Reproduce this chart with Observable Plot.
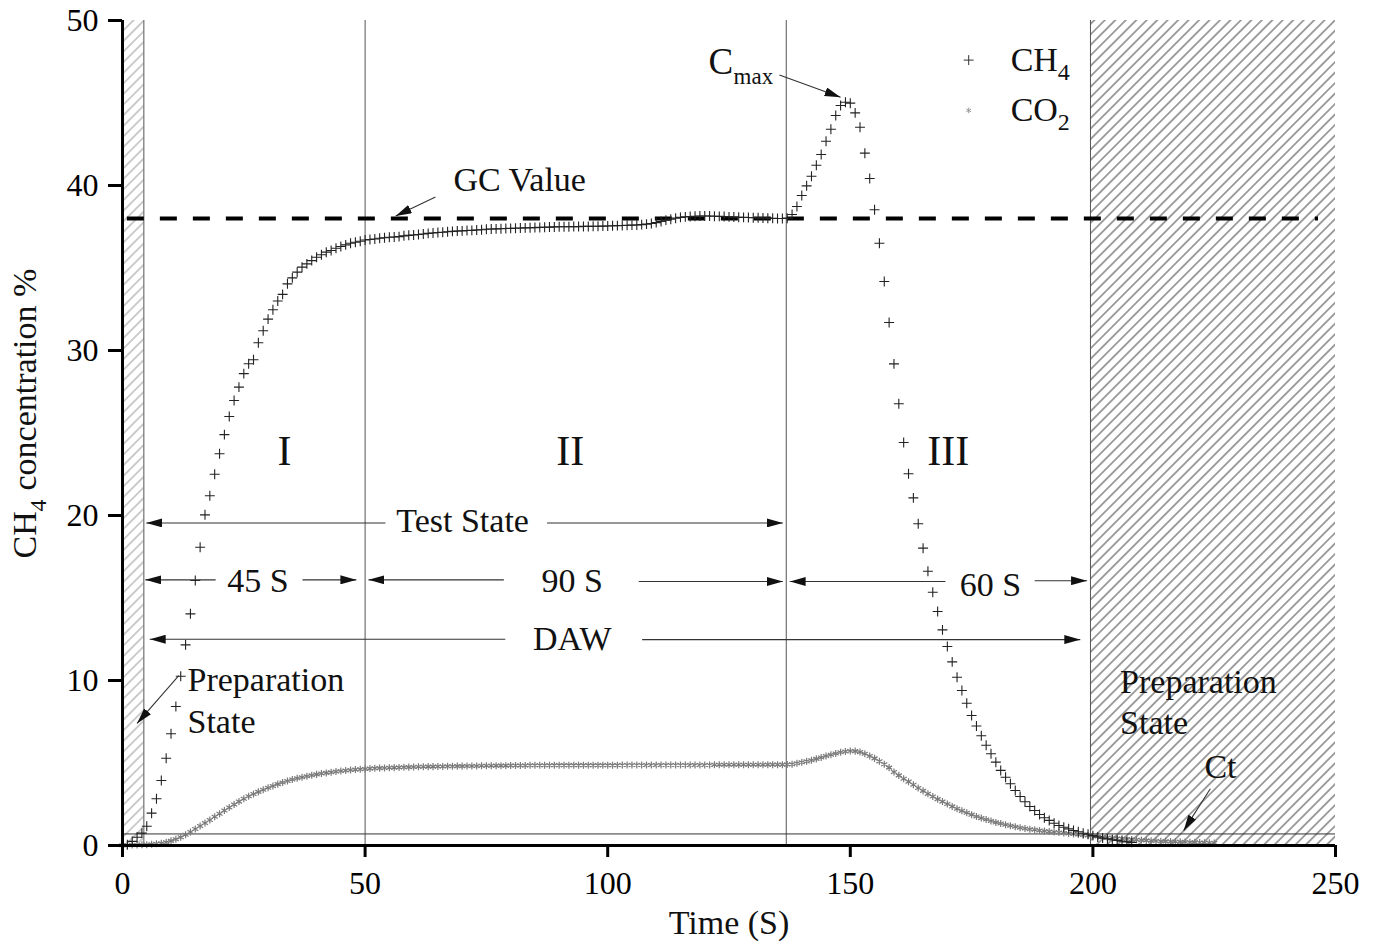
<!DOCTYPE html>
<html><head><meta charset="utf-8">
<script src="https://cdn.jsdelivr.net/npm/d3@7"></script>
<script src="https://cdn.jsdelivr.net/npm/@observablehq/plot@0.6"></script>
<style>
html,body{margin:0;padding:0;background:#fff;}
#chart svg{display:block;}
#chart svg text{font-family:'Liberation Serif','Times New Roman',serif;}
</style></head><body>
<svg width="0" height="0" style="position:absolute">
<defs>
<pattern id="hatchL" patternUnits="userSpaceOnUse" width="7.5" height="7.5" patternTransform="rotate(45)"><line x1="3.75" y1="-1" x2="3.75" y2="8.5" stroke="#999" stroke-width="1"/></pattern>
<pattern id="hatchR" patternUnits="userSpaceOnUse" width="7.4" height="7.4" patternTransform="rotate(45)"><line x1="3.7" y1="-1" x2="3.7" y2="8.4" stroke="#444" stroke-width="1"/></pattern>
</defs></svg>
<div id="chart"></div>
<script>
// CH4 concentration (%), sampled once per second from t = 0 s
const ch4 = [
  0.00, 0.05, 0.25, 0.50, 0.75, 1.17, 1.96, 2.83, 3.94, 5.29,
  6.77, 8.42, 10.26, 12.16, 14.04, 16.06, 18.08, 20.04, 21.20, 22.50,
  23.74, 24.90, 26.00, 26.97, 27.78, 28.60, 29.20, 29.44, 30.47, 31.20,
  31.90, 32.47, 33.00, 33.40, 34.04, 34.40, 34.75, 35.05, 35.25, 35.45,
  35.65, 35.80, 35.96, 36.06, 36.20, 36.30, 36.40, 36.50, 36.56, 36.62,
  36.70, 36.73, 36.76, 36.80, 36.83, 36.86, 36.88, 36.90, 36.95, 36.98,
  37.00, 37.03, 37.06, 37.10, 37.12, 37.15, 37.17, 37.20, 37.22, 37.24,
  37.25, 37.27, 37.28, 37.30, 37.32, 37.35, 37.36, 37.37, 37.38, 37.39,
  37.40, 37.41, 37.42, 37.43, 37.44, 37.45, 37.46, 37.47, 37.48, 37.49,
  37.50, 37.50, 37.50, 37.51, 37.51, 37.52, 37.52, 37.53, 37.53, 37.54,
  37.55, 37.56, 37.57, 37.58, 37.59, 37.60, 37.61, 37.63, 37.66, 37.70,
  37.75, 37.82, 37.90, 37.96, 38.02, 38.07, 38.10, 38.12, 38.14, 38.15,
  38.15, 38.15, 38.14, 38.13, 38.12, 38.10, 38.09, 38.08, 38.07, 38.06,
  38.05, 38.04, 38.03, 38.02, 38.01, 38.00, 38.00, 38.02, 38.24, 38.73,
  39.39, 39.98, 40.56, 41.23, 41.88, 42.68, 43.41, 44.24, 44.85, 45.05,
  44.99, 44.40, 43.53, 41.96, 40.42, 38.53, 36.50, 34.18, 31.70, 29.19,
  26.77, 24.42, 22.53, 21.07, 19.50, 18.02, 16.62, 15.35, 14.18, 13.07,
  12.06, 11.13, 10.20, 9.39, 8.62, 7.88, 7.24, 6.65, 6.08, 5.56,
  5.05, 4.55, 4.14, 3.74, 3.33, 2.97, 2.65, 2.36, 2.12, 1.88,
  1.68, 1.52, 1.35, 1.21, 1.11, 1.01, 0.91, 0.83, 0.74, 0.68,
  0.60, 0.52, 0.45, 0.40, 0.35, 0.30, 0.26, 0.22, 0.19
];
// CO2 concentration (%), sampled once per second from t = 0 s
const co2 = [
  0.02, 0.02, 0.03, 0.03, 0.04, 0.05, 0.07, 0.10, 0.14, 0.20,
  0.28, 0.38, 0.50, 0.65, 0.82, 1.00, 1.18, 1.36, 1.55, 1.74,
  1.93, 2.12, 2.30, 2.48, 2.66, 2.83, 2.98, 3.12, 3.25, 3.38,
  3.50, 3.61, 3.72, 3.82, 3.91, 4.00, 4.07, 4.14, 4.20, 4.26,
  4.31, 4.36, 4.40, 4.44, 4.48, 4.51, 4.54, 4.57, 4.60, 4.62,
  4.64, 4.66, 4.68, 4.69, 4.70, 4.71, 4.72, 4.73, 4.74, 4.75,
  4.76, 4.77, 4.77, 4.78, 4.78, 4.79, 4.79, 4.80, 4.80, 4.81,
  4.81, 4.82, 4.82, 4.82, 4.83, 4.83, 4.83, 4.84, 4.84, 4.84,
  4.85, 4.85, 4.85, 4.85, 4.86, 4.86, 4.86, 4.86, 4.86, 4.87,
  4.87, 4.87, 4.87, 4.87, 4.87, 4.87, 4.87, 4.87, 4.87, 4.87,
  4.87, 4.87, 4.87, 4.88, 4.88, 4.88, 4.88, 4.88, 4.88, 4.88,
  4.88, 4.88, 4.88, 4.88, 4.88, 4.88, 4.88, 4.88, 4.88, 4.88,
  4.88, 4.88, 4.89, 4.89, 4.89, 4.89, 4.89, 4.89, 4.89, 4.89,
  4.89, 4.89, 4.89, 4.90, 4.90, 4.90, 4.90, 4.91, 4.93, 4.98,
  5.04, 5.10, 5.17, 5.25, 5.33, 5.42, 5.50, 5.58, 5.65, 5.70,
  5.73, 5.72, 5.66, 5.56, 5.43, 5.28, 5.10, 4.92, 4.72, 4.45,
  4.25, 4.05, 3.87, 3.68, 3.49, 3.31, 3.13, 2.97, 2.81, 2.66,
  2.51, 2.37, 2.23, 2.10, 1.98, 1.87, 1.76, 1.66, 1.57, 1.48,
  1.40, 1.33, 1.26, 1.20, 1.14, 1.08, 1.03, 0.99, 0.95, 0.91,
  0.88, 0.85, 0.82, 0.79, 0.76, 0.73, 0.70, 0.67, 0.64, 0.61,
  0.58, 0.55, 0.52, 0.49, 0.46, 0.43, 0.41, 0.39, 0.37, 0.35,
  0.33, 0.31, 0.29, 0.27, 0.26, 0.25, 0.24, 0.23, 0.22, 0.21,
  0.20, 0.19, 0.18, 0.17, 0.16, 0.15
];
const xTicks = [0, 50, 100, 150, 200, 250];
const yTicks = [0, 10, 20, 30, 40, 50];
const gcValue = 38;
const ctLevel = 0.7;
const stageBounds = [4.4, 50, 136.8, 199.5];
const prepLeft = {t1: 0, t2: 4.4};
const prepRight = {t1: 199.5, t2: 250};

// annotations (in data units: time s, concentration %)
const regionLabels = [
  {label: "I", t: 33.4, c: 23.9},
  {label: "II", t: 92.3, c: 23.9},
  {label: "III", t: 170.2, c: 23.9}
];
const spanLabels = [
  {label: "Test State", t: 70.1, c: 19.65},
  {label: "45 S", t: 27.9, c: 16.0},
  {label: "90 S", t: 92.7, c: 16.0},
  {label: "60 S", t: 178.9, c: 15.8},
  {label: "DAW", t: 92.7, c: 12.5}
];
const leftLabels = [
  {label: "Preparation", t: 13.4, c: 10.0},
  {label: "State", t: 13.4, c: 7.47},
  {label: "Preparation", t: 205.6, c: 9.9},
  {label: "State", t: 205.6, c: 7.4},
  {label: "GC Value", t: 68.2, c: 40.3}
];
const ctLabel = [{label: "Ct", t: 226.3, c: 4.75}];
const arrows = [
  {t1: 54.2, c1: 19.55, t2: 4.9, c2: 19.55},
  {t1: 87.5, c1: 19.55, t2: 136.1, c2: 19.55},
  {t1: 19.2, c1: 16.1, t2: 4.7, c2: 16.1},
  {t1: 37.1, c1: 16.1, t2: 48.2, c2: 16.1},
  {t1: 78.6, c1: 16.1, t2: 50.7, c2: 16.1},
  {t1: 106.4, c1: 16.0, t2: 136.1, c2: 16.0},
  {t1: 169.6, c1: 16.0, t2: 137.5, c2: 16.0},
  {t1: 188.0, c1: 16.05, t2: 198.8, c2: 16.05},
  {t1: 78.9, c1: 12.5, t2: 5.6, c2: 12.5},
  {t1: 107.1, c1: 12.48, t2: 197.4, c2: 12.48},
  {t1: 11.6, c1: 10.3, t2: 3.0, c2: 7.4},
  {t1: 224.2, c1: 3.44, t2: 218.7, c2: 0.9},
  {t1: 64.5, c1: 39.3, t2: 56.3, c2: 38.15},
  {t1: 135.4, c1: 46.7, t2: 148.0, c2: 45.35}
];
const legendItems = [
  {name: "CH", sub: "4", t: 174.4, c: 47.6},
  {name: "CO", sub: "2", t: 174.4, c: 44.55}
];
const cmax = [{t: 120.8, c: 47.47}];

const ch4Data = ch4.map((v, i) => ({time: i, value: v}));
const co2Data = co2.map((v, i) => ({time: i, value: v}));

const font = "'Liberation Serif', 'Times New Roman', serif";

const plot = Plot.plot({
  width: 1375,
  height: 951,
  marginLeft: 122,
  marginRight: 40,
  marginTop: 20,
  marginBottom: 106,
  x: {domain: [0, 250]},
  y: {domain: [0, 50]},
  style: {fontFamily: font, fontSize: "32px", background: "#fff", color: "#000", overflow: "visible"},
  marks: [
    Plot.rect([prepLeft], {x1: "t1", x2: "t2", y1: 0, y2: 50, fill: "url(#hatchL)"}),
    Plot.rect([prepRight], {x1: "t1", x2: "t2", y1: 0, y2: 50, fill: "url(#hatchR)"}),
    Plot.ruleX(stageBounds, {stroke: "#555", strokeWidth: 1}),
    Plot.ruleY([ctLevel], {stroke: "#333", strokeWidth: 1}),
    Plot.ruleY([gcValue], {x1: 1, x2: 246.5, stroke: "#000", strokeWidth: 4, strokeDasharray: "17,16"}),
    Plot.dot(co2Data, {x: "time", y: "value", symbol: "asterisk", r: 3.3, stroke: "#7a7a7a", strokeWidth: 1.2}),
    Plot.dot(ch4Data, {x: "time", y: "value", symbol: "plus", r: 3.3, stroke: "#222", strokeWidth: 1.1}),
    Plot.link(arrows, {x1: "t1", y1: "c1", x2: "t2", y2: "c2", stroke: "#333", strokeWidth: 1.1, markerEnd: "arrow"}),
    Plot.text(regionLabels, {x: "t", y: "c", text: "label", fontSize: 42, fontFamily: font, fill: "#111"}),
    Plot.text(spanLabels, {x: "t", y: "c", text: "label", fontSize: 34, fontFamily: font, fill: "#111"}),
    Plot.text(leftLabels, {x: "t", y: "c", text: "label", fontSize: 34, fontFamily: font, textAnchor: "start", fill: "#111"}),
    Plot.text(ctLabel, {x: "t", y: "c", text: "label", fontSize: 34, fontFamily: font, fill: "#111"}),
    Plot.text(cmax, {x: "t", y: "c", text: () => "C", fontSize: 37, fontFamily: font, textAnchor: "start", fill: "#111"}),
    Plot.text(cmax, {x: "t", y: "c", text: () => "max", fontSize: 23, fontFamily: font, textAnchor: "start", dx: 25, dy: 14, fill: "#111"}),
    Plot.dot(legendItems.slice(0, 1), {x: "t", y: "c", symbol: "plus", r: 3.3, stroke: "#333", strokeWidth: 1}),
    Plot.dot(legendItems.slice(1), {x: "t", y: "c", symbol: "asterisk", r: 2.6, stroke: "#999", strokeWidth: 1}),
    Plot.text(legendItems, {x: "t", y: "c", text: "name", fontSize: 34, fontFamily: font, textAnchor: "start", dx: 42, fill: "#111"}),
    Plot.text(legendItems, {x: "t", y: "c", text: "sub", fontSize: 24, fontFamily: font, textAnchor: "start", dx: 89, dy: 12, fill: "#111"}),
    Plot.axisX({ticks: xTicks, tickSize: 12, tickPadding: 14, fontSize: 32, fontFamily: font, strokeWidth: 3, label: null}),
    Plot.axisY({ticks: yTicks, tickSize: 14, tickPadding: 10, fontSize: 32, fontFamily: font, strokeWidth: 3, label: null}),
    Plot.ruleX([0], {stroke: "#000", strokeWidth: 3}),
    Plot.ruleY([0], {stroke: "#000", strokeWidth: 3}),
    Plot.text(["Time (S)"], {frameAnchor: "bottom", dy: 88, fontSize: 34, fontFamily: font, fill: "#111"}),
    Plot.text(["CH"], {frameAnchor: "bottom-left", dx: -87, dy: -287, rotate: -90, textAnchor: "start", fontSize: 34, fontFamily: font, fill: "#111"}),
    Plot.text(["4"], {frameAnchor: "bottom-left", dx: -77, dy: -334, rotate: -90, textAnchor: "start", fontSize: 24, fontFamily: font, fill: "#111"}),
    Plot.text(["concentration %"], {frameAnchor: "bottom-left", dx: -87, dy: -355, rotate: -90, textAnchor: "start", fontSize: 34, fontFamily: font, fill: "#111"})
  ]
});

// filled triangular arrowheads
plot.querySelectorAll("marker").forEach(m => {
  m.setAttribute("viewBox", "-16 -4.5 16 9");
  m.setAttribute("markerWidth", "16");
  m.setAttribute("markerHeight", "9");
  m.setAttribute("markerUnits", "userSpaceOnUse");
  m.setAttribute("refX", "0");
  m.setAttribute("refY", "0");
  m.setAttribute("orient", "auto");
  m.setAttribute("fill", "#111");
  m.setAttribute("stroke", "none");
  while (m.firstChild) m.removeChild(m.firstChild);
  const p = document.createElementNS("http://www.w3.org/2000/svg", "path");
  p.setAttribute("d", "M-16,-4.5L0,0L-16,4.5Z");
  m.appendChild(p);
});

document.getElementById("chart").appendChild(plot);
</script>
</body></html>
